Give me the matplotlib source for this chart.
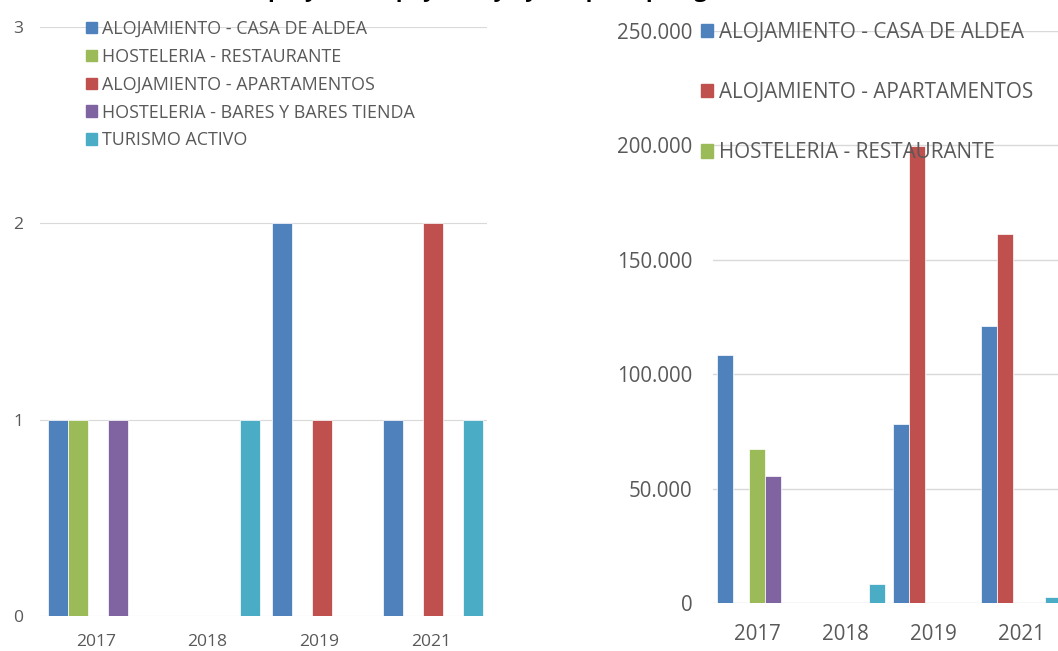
import matplotlib.pyplot as plt
from matplotlib.patches import Patch
from matplotlib.ticker import FuncFormatter
import numpy as np

plt.rcParams['font.family'] = ['Open Sans', 'DejaVu Sans']

years = ['2017', '2018', '2019', '2021']

# project counts per type (left panel)
n_casa_aldea = [1, 0, 2, 1]
n_restaurante = [1, 0, 0, 0]
n_apartamentos = [0, 0, 1, 2]
n_bares = [1, 0, 0, 0]
n_turismo = [0, 1, 0, 1]

# aid amounts in euros per type (right panel)
eur_casa_aldea = [108400, 0, 78300, 121100]
eur_apartamentos = [0, 0, 199600, 161300]
eur_restaurante = [67400, 0, 0, 0]
eur_bares = [55600, 0, 0, 0]
eur_turismo = [0, 8600, 0, 2900]

lbl_casa = 'ALOJAMIENTO - CASA DE ALDEA'
lbl_rest = 'HOSTELERIA - RESTAURANTE'
lbl_apto = 'ALOJAMIENTO - APARTAMENTOS'
lbl_bares = 'HOSTELERIA - BARES Y BARES TIENDA'
lbl_tur = 'TURISMO ACTIVO'

BLUE = '#4F81BD'
RED = '#C0504D'
GREEN = '#9BBB59'
PURPLE = '#8064A2'
CYAN = '#4BACC6'
TXT = '#595959'
GRID = '#D9D9D9'

W, H = 1058, 651
fig = plt.figure(figsize=(W / 100, H / 100), dpi=100)

# title sits above the canvas, only its descenders reach the top edge
title = 'Número de proyectos apoyados y ayuda por tipología'
fig.text(138 / W, 1 + 3 / H, title, ha='left', va='baseline',
         fontsize=16, fontweight='bold', color='black')


def style_axes(ax, fs, ypad, xpad, grid_lw):
    for s in ax.spines.values():
        s.set_visible(False)
    ax.tick_params(length=0, labelcolor=TXT, labelsize=fs)
    ax.tick_params(axis='y', pad=ypad)
    ax.tick_params(axis='x', pad=xpad)
    ax.yaxis.grid(True, color=GRID, linewidth=grid_lw)
    ax.set_axisbelow(True)


# ---- left panel: number of projects ----
ax1 = fig.add_axes([40 / W, 35 / H, 447 / W, 589 / H])
x = np.arange(len(years))
w1 = 20 / 111.75
left_series = [
    (n_casa_aldea, BLUE, lbl_casa),
    (n_restaurante, GREEN, lbl_rest),
    (n_apartamentos, RED, lbl_apto),
    (n_bares, PURPLE, lbl_bares),
    (n_turismo, CYAN, lbl_tur),
]
for i, (vals, col, lbl) in enumerate(left_series):
    ax1.bar(x + (i - 2) * w1 + 0.02, vals, w1, color=col,
            edgecolor='white', linewidth=0.5, label=lbl)
ax1.set_xlim(-0.5, 3.5)
ax1.set_ylim(0, 3)
ax1.set_yticks([0, 1, 2, 3])
ax1.set_xticks(x)
ax1.set_xticklabels(years)
style_axes(ax1, 12.6, 12, 13, 0.8)

handles1 = [Patch(color=c, label=l) for _, c, l in left_series]
ax1.legend(handles=handles1, loc='upper left',
           bbox_to_anchor=(86 / W, 1 - 20 / H), bbox_transform=fig.transFigure,
           frameon=False, fontsize=12.9, labelcolor=TXT,
           handlelength=0.62, handleheight=0.62, handletextpad=0.3,
           labelspacing=0.55, borderpad=0, borderaxespad=0)

# ---- right panel: aid amount ----
ax2 = fig.add_axes([713 / W, 47.7 / H, 352 / W, 572.5 / H])
w2 = 16 / 88
right_series = [
    (eur_casa_aldea, BLUE, lbl_casa),
    (eur_apartamentos, RED, lbl_apto),
    (eur_restaurante, GREEN, lbl_rest),
    (eur_bares, PURPLE, lbl_bares),
    (eur_turismo, CYAN, lbl_tur),
]
for i, (vals, col, lbl) in enumerate(right_series):
    ax2.bar(x + (i - 2) * w2, vals, w2, color=col,
            edgecolor='white', linewidth=0.5, label=lbl)
ax2.set_xlim(-0.5, 3.5)
ax2.set_ylim(0, 250000)
ax2.set_yticks(np.arange(0, 250001, 50000))
ax2.yaxis.set_major_formatter(
    FuncFormatter(lambda v, _: f'{int(v):,}'.replace(',', '.')))
ax2.set_xticks(x)
ax2.set_xticklabels(years)
style_axes(ax2, 14.8, 15, 15, 1.0)

handles2 = [Patch(color=c, label=l) for _, c, l in right_series[:3]]
ax2.legend(handles=handles2, loc='upper left',
           bbox_to_anchor=(701 / W, 1 - 22 / H), bbox_transform=fig.transFigure,
           frameon=False, fontsize=14.9, labelcolor=TXT,
           handlelength=0.6, handleheight=0.6, handletextpad=0.25,
           labelspacing=1.89, borderpad=0, borderaxespad=0)

fig.savefig('out.png', dpi=100)
